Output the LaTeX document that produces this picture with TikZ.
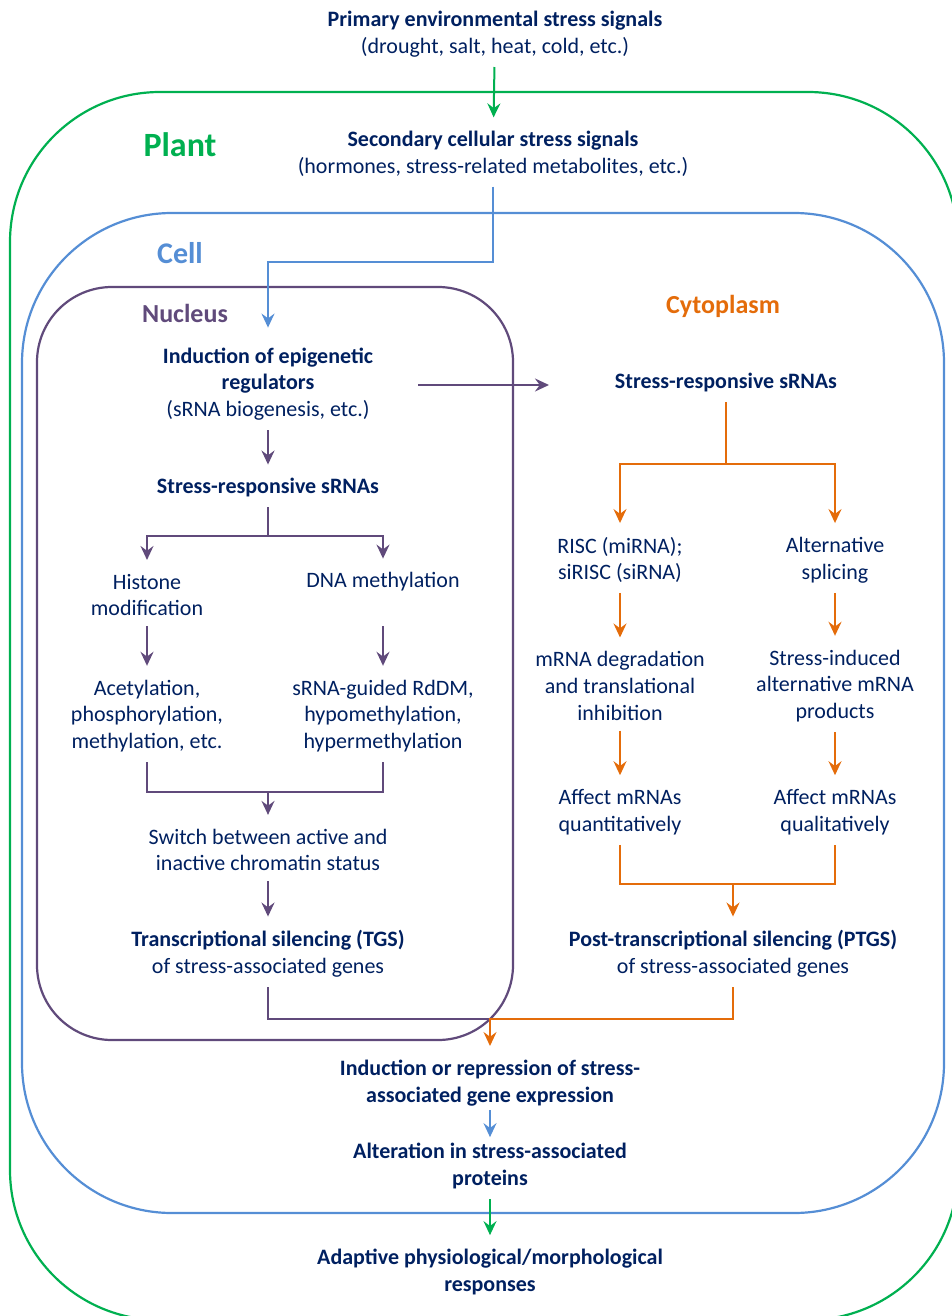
\documentclass[tikz,border=0pt]{standalone}
\usepackage{fontspec}
\setmainfont{Carlito}
\usepackage{tikz}
\usetikzlibrary{arrows.meta}
\usetikzlibrary{positioning}
\definecolor{TextNavy}{RGB}{0,32,96}
\definecolor{PlantCol}{RGB}{0,176,80}
\definecolor{CellCol}{RGB}{85,142,213}
\definecolor{NucCol}{RGB}{96,74,123}
\definecolor{CytoCol}{RGB}{228,108,10}
\tikzset{
	>={Stealth[length=7pt, width=6.5pt, inset=2.4pt]},
	txt/.style={text=TextNavy, font=\fontsize{11}{13.4}\selectfont,
		align=center, inner sep=0pt, outer sep=5pt, yshift=-1pt},
	hd/.style={txt, font=\fontsize{11}{13.4}\selectfont\bfseries},
	region/.style={font=\bfseries, inner sep=0pt},
	gline/.style={PlantCol, line width=1pt},
	bline/.style={CellCol, line width=1pt},
	pline/.style={NucCol, line width=1pt},
	oline/.style={CytoCol, line width=1pt},
	garr/.style={gline, ->, shorten >=2pt},
	barr/.style={bline, ->, shorten >=2pt},
	parr/.style={pline, ->, shorten >=2pt},
	oarr/.style={oline, ->, shorten >=2pt},
}

\begin{document}
\begin{tikzpicture}[
		x=0.5pt, y=-0.5pt,
		line join=miter,
		plantbox/.style={draw=PlantCol, line width=1.1pt, rounded corners=75pt},
		cellbox/.style={draw=CellCol, line width=1.1pt, rounded corners=75pt},
		nucbox/.style={draw=NucCol, line width=1.1pt, rounded corners=37.5pt},
		]
		
		% page frame (reference is 952 x 1316 px)
		\clip (0,0) rectangle (952,1316);
		
		% --- compartments ---
		\draw[plantbox] (10,92) rectangle (958,1320);
		\draw[cellbox] (22,213) rectangle (944,1213);
		\draw[nucbox] (37,287) rectangle (513,1040);
		
		\node[region, text=PlantCol, font=\fontsize{17}{20}\selectfont\bfseries] (lplant) at (180,145) {Plant};
		\node[region, text=CellCol, font=\fontsize{15}{18}\selectfont\bfseries] (lcell) at (180,253) {Cell};
		\node[region, text=NucCol, font=\fontsize{13}{16}\selectfont\bfseries] (lnuc) at (185,313) {Nucleus};
		\node[region, text=CytoCol, font=\fontsize{13}{16}\selectfont\bfseries] (lcyto) at (723,306) {Cytoplasm};
		
		% --- signals from outside ---
		\node[txt] (prim) at (495,32) {{\bfseries Primary environmental stress signals}\\(drought, salt, heat, cold, etc.)};
		\node[txt] (sec) at (493,152) {{\bfseries Secondary cellular stress signals}\\(hormones, stress-related metabolites, etc.)};
		
		% --- nucleus: TGS branch ---
		\node[txt] (indu) at (268,382) {{\bfseries Induction of epigenetic}\\{\bfseries regulators}\\(sRNA biogenesis, etc.)};
		\node[hd] (srnaL) at (268,486) {Stress-responsive sRNAs};
		\node[txt] (hist) at (147,593) {Histone\\modification};
		\node[txt] (dna) at (383,580) {DNA methylation};
		\node[txt] (acet) at (147,714) {Acetylation,\\phosphorylation,\\methylation, etc.};
		\node[txt] (rddm) at (383,714) {sRNA-guided RdDM,\\hypomethylation,\\hypermethylation};
		\node[txt] (sw) at (268,848) {Switch between active and\\inactive chromatin status};
		\node[txt] (tgs) at (268,952) {{\bfseries Transcriptional silencing (TGS)}\\of stress-associated genes};
		
		% --- cytoplasm: PTGS branch ---
		\node[hd] (srnaR) at (726,381) {Stress-responsive sRNAs};
		\node[txt] (risc) at (620,558) {RISC (miRNA);\\siRISC (siRNA)};
		\node[txt] (alt) at (835,558) {Alternative\\splicing};
		\node[txt] (deg) at (620,684) {mRNA degradation\\and translational\\inhibition};
		\node[txt] (prod) at (835,684) {Stress-induced\\alternative mRNA\\products};
		\node[txt] (quant) at (620,810) {Affect mRNAs\\quantitatively};
		\node[txt] (qual) at (835,810) {Affect mRNAs\\qualitatively};
		\node[txt] (ptgs) at (733,952) {{\bfseries Post-transcriptional silencing (PTGS)}\\of stress-associated genes};
		
		% --- common outcome ---
		\node[hd] (indrep) at (490,1081) {Induction or repression of stress-\\associated gene expression};
		\node[hd] (alter) at (490,1164) {Alteration in stress-associated\\proteins};
		\node[hd] (adapt) at (490,1270) {Adaptive physiological/morphological\\responses};
		
		% junctions
		\coordinate (jB) at (268,262);
		\coordinate (jS) at (268,536);
		\coordinate (jC) at (268,792);
		\coordinate (jR) at (726,464);
		\coordinate (jQ) at (733,884);
		\coordinate (jM) at (490,1019);
		
		% --- connectors ---
		\draw[garr] (prim) -- (sec);
		\draw[barr, shorten >=5pt] (sec) |- (jB) -- (indu);
		\draw[parr, shorten <=17.5pt, shorten >=28pt] ([yshift=-1pt]indu.east |- srnaR) -- ([yshift=-1pt]srnaR.west);
		
		\draw[parr] (indu) -- (srnaL);
		\draw[pline] (srnaL) -- (jS);
		\draw[parr] (jS) -| (hist);
		\draw[parr] (jS) -| (dna);
		\draw[parr] (hist) -- (acet);
		\draw[parr] (dna |- hist.south) -- (rddm);
		\draw[pline] (acet) |- (jC) -| (rddm);
		\draw[parr] (jC) -- (sw);
		\draw[parr] (sw) -- (tgs);
		
		\draw[oline] (srnaR) -- (jR);
		\draw[oarr] (jR) -| (risc);
		\draw[oarr] (jR) -| (alt);
		\draw[oarr] (risc) -- (deg);
		\draw[oarr] (alt) -- (prod);
		\draw[oarr] (deg) -- (quant);
		\draw[oarr] (prod) -- (qual);
		\draw[oline] (quant) |- (jQ) -| (qual);
		\draw[oarr] (jQ) -- (ptgs);
		
		\draw[pline] (tgs) |- (jM);
		\draw[oarr] (ptgs) |- (jM) -- (indrep);
		\draw[barr, shorten <=-3pt, shorten >=-2pt] (indrep) -- (alter);
		\draw[garr] (alter) -- (adapt);
		
	\end{tikzpicture}
\end{document}
